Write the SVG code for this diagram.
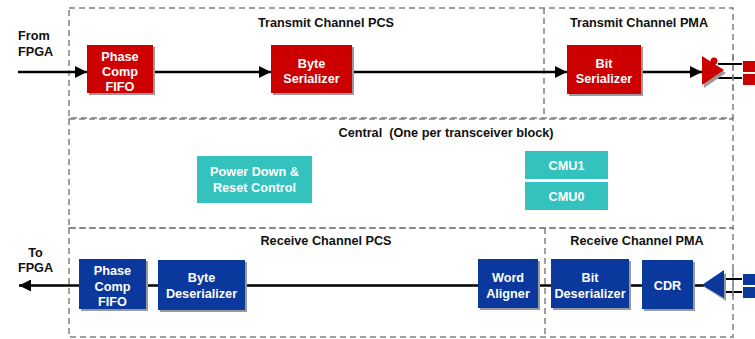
<svg xmlns="http://www.w3.org/2000/svg" width="755" height="339" viewBox="0 0 755 339">
<defs>
<marker id="ah" viewBox="0 0 12 12" refX="12" refY="6" markerWidth="12" markerHeight="12" markerUnits="userSpaceOnUse" orient="auto">
<path d="M0,0 L12,6 L0,12 Z" fill="#000"/>
</marker>
</defs>
<style>
.dash{fill:none;stroke:#808080;stroke-width:1.5;stroke-dasharray:6,4}
.title{font-family:"Liberation Sans",Arial,sans-serif;font-weight:bold;font-size:12.7px;fill:#111;text-anchor:middle}
.lbl{font-family:"Liberation Sans",Arial,sans-serif;font-weight:bold;font-size:12.7px;fill:#fff;text-anchor:middle}
.side{font-family:"Liberation Sans",Arial,sans-serif;font-weight:bold;font-size:12.7px;fill:#111}
.red{fill:#cc0000}
.blue{fill:#0a389c}
.teal{fill:#33c2bd}
.sh{fill:#9a9a9a}
.wire{stroke:#000;stroke-width:2.5;fill:none}
.pin{stroke:#000;stroke-width:2;fill:none}
</style>
<rect width="755" height="339" fill="#fff"/>

<g id="regions">
<rect class="dash" x="69" y="8" width="664" height="110"/>
<line class="dash" x1="544" y1="8" x2="544" y2="118"/>
<rect class="dash" x="69" y="119" width="664" height="109"/>
<rect class="dash" x="69" y="228" width="664" height="109"/>
<line class="dash" x1="545" y1="228" x2="545" y2="337"/>
<text class="title" x="326" y="27">Transmit Channel PCS</text>
<text class="title" x="639" y="27">Transmit Channel PMA</text>
<text class="title" x="446" y="137" xml:space="preserve">Central  (One per transceiver block)</text>
<text class="title" x="326" y="245">Receive Channel PCS</text>
<text class="title" x="637" y="245">Receive Channel PMA</text>
</g>

<g id="connectors">
<line class="wire" x1="18" y1="72" x2="87" y2="72" marker-end="url(#ah)"/>
<line class="wire" x1="153" y1="72" x2="271" y2="72" marker-end="url(#ah)"/>
<line class="wire" x1="352" y1="72" x2="567" y2="72" marker-end="url(#ah)"/>
<line class="wire" x1="641" y1="72" x2="702" y2="72" marker-end="url(#ah)"/>
<line class="pin" x1="718" y1="64" x2="742" y2="64"/>
<line class="pin" x1="718" y1="78" x2="742" y2="78"/>
<line class="wire" x1="704" y1="285.5" x2="19" y2="285.5" marker-end="url(#ah)"/>
<line class="pin" x1="722" y1="279" x2="742" y2="279"/>
<line class="pin" x1="722" y1="292" x2="742" y2="292"/>
<line class="dash" x1="733" y1="55" x2="733" y2="92"/>
<line class="dash" x1="733" y1="270" x2="733" y2="300"/>
</g>

<g id="from-fpga">
<text class="side" x="18" y="40">From</text>
<text class="side" x="18" y="56">FPGA</text>
</g>
<g id="to-fpga">
<text class="side" x="35.5" y="257" text-anchor="middle">To</text>
<text class="side" x="35.5" y="272" text-anchor="middle">FPGA</text>
</g>

<g id="tx-phase-comp-fifo">
<rect class="sh" x="89" y="47" width="66" height="48"/>
<rect class="red" x="87" y="45" width="66" height="48"/>
<text class="lbl" x="120" y="60.5">Phase</text>
<text class="lbl" x="120" y="76">Comp</text>
<text class="lbl" x="120" y="91">FIFO</text>
</g>
<g id="tx-byte-serializer">
<rect class="sh" x="273" y="47" width="81" height="48"/>
<rect class="red" x="271" y="45" width="81" height="48"/>
<text class="lbl" x="311.5" y="68">Byte</text>
<text class="lbl" x="311.5" y="83">Serializer</text>
</g>
<g id="tx-bit-serializer">
<rect class="sh" x="569" y="47" width="74" height="49"/>
<rect class="red" x="567" y="45" width="74" height="49"/>
<text class="lbl" x="604" y="68">Bit</text>
<text class="lbl" x="604" y="83">Serializer</text>
</g>
<g id="tx-buffer">
<path d="M704,59 L726,73 L704,88 Z" class="sh"/>
<path d="M702,56 L724,70 L702,85 Z" class="red"/>
<circle cx="714" cy="61" r="3.5" class="red"/>
</g>
<g id="tx-pins">
<rect class="red" x="743" y="61" width="12" height="11"/>
<rect class="red" x="743" y="74" width="12" height="11"/>
</g>

<g id="power-down-reset">
<rect class="teal" x="197" y="156" width="115" height="47"/>
<text class="lbl" x="254.5" y="176">Power Down &amp;</text>
<text class="lbl" x="254.5" y="192">Reset Control</text>
</g>
<g id="cmu1">
<rect class="teal" x="525" y="151" width="83" height="28"/>
<text class="lbl" x="566.5" y="170">CMU1</text>
</g>
<g id="cmu0">
<rect class="teal" x="525" y="182" width="83" height="28"/>
<text class="lbl" x="566.5" y="201">CMU0</text>
</g>

<g id="rx-phase-comp-fifo">
<rect class="sh" x="81" y="261" width="67" height="50"/>
<rect class="blue" x="79" y="259" width="67" height="50"/>
<text class="lbl" x="112.5" y="275">Phase</text>
<text class="lbl" x="112.5" y="291">Comp</text>
<text class="lbl" x="112.5" y="306">FIFO</text>
</g>
<g id="rx-byte-deserializer">
<rect class="sh" x="160" y="262" width="87" height="50"/>
<rect class="blue" x="158" y="260" width="87" height="50"/>
<text class="lbl" x="201.5" y="282">Byte</text>
<text class="lbl" x="201.5" y="298">Deserializer</text>
</g>
<g id="rx-word-aligner">
<rect class="sh" x="480" y="261" width="60" height="49"/>
<rect class="blue" x="478" y="259" width="60" height="49"/>
<text class="lbl" x="508" y="282">Word</text>
<text class="lbl" x="508" y="298">Aligner</text>
</g>
<g id="rx-bit-deserializer">
<rect class="sh" x="553" y="261" width="78" height="49"/>
<rect class="blue" x="551" y="259" width="78" height="49"/>
<text class="lbl" x="590" y="282">Bit</text>
<text class="lbl" x="590" y="298">Deserializer</text>
</g>
<g id="rx-cdr">
<rect class="sh" x="644" y="262" width="51" height="49"/>
<rect class="blue" x="642" y="260" width="51" height="49"/>
<text class="lbl" x="667.5" y="290">CDR</text>
</g>
<g id="rx-buffer">
<path d="M704,287 L726,273 L726,301 Z" class="sh"/>
<path d="M702,285 L724,270 L724,298 Z" class="blue"/>
</g>
<g id="rx-pins">
<rect class="blue" x="743" y="274" width="12" height="11"/>
<rect class="blue" x="743" y="287" width="12" height="11"/>
</g>
</svg>
